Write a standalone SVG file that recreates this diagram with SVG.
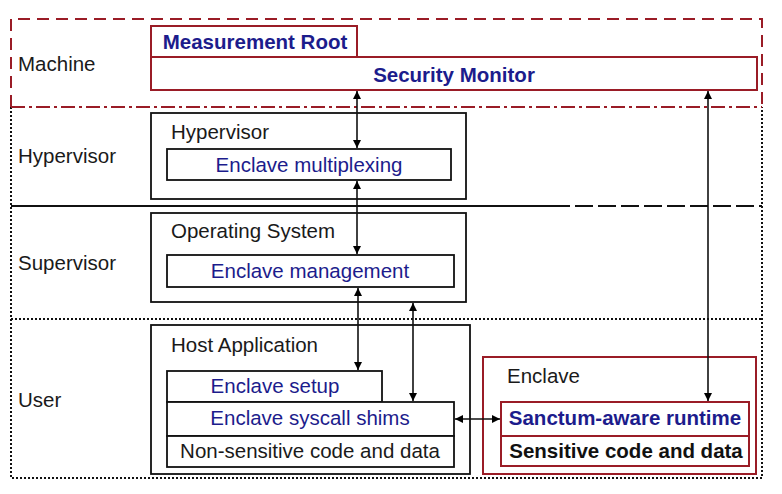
<svg xmlns="http://www.w3.org/2000/svg" width="782" height="494" viewBox="0 0 782 494">
<defs>
<marker id="ah" viewBox="0 0 10 10" refX="10" refY="5" markerWidth="8" markerHeight="9" orient="auto-start-reverse" markerUnits="userSpaceOnUse">
<path d="M0,0 L10,5 L0,10 z" fill="#000"/>
</marker>
<style>
text{font-family:"Liberation Sans",Arial,sans-serif;font-size:20.5px;}
.lbl{fill:#1a1a1a;}
.blue{fill:#1c1c8c;}
.bb{fill:#1c1c8c;font-weight:bold;}
.kb{fill:#111;font-weight:bold;}
.rbox{fill:#fff;stroke:#9a1c26;stroke-width:2;}
.kbox{fill:#fff;stroke:#111;stroke-width:1.8;}
.conn{stroke:#111;stroke-width:1.6;fill:none;marker-start:url(#ah);marker-end:url(#ah);}
.dot{stroke:#111;stroke-width:2;fill:none;stroke-dasharray:2 2;}
</style>
</defs>
<rect width="782" height="494" fill="#fff"/>
<g id="layers">
<path d="M11,107 V478 H762 V107" class="dot"/>
<path d="M11,319 H762" class="dot"/>
<path d="M11,206 H552" stroke="#111" stroke-width="1.8"/>
<path d="M552,206 H762" stroke="#111" stroke-width="1.8" stroke-dasharray="18 5"/>
<path d="M11,107 H762" stroke="#9a1c26" stroke-width="2" stroke-dasharray="14 4 3 4"/>
<path d="M11,107 V19 H762 V107" stroke="#9a1c26" stroke-width="2" fill="none" stroke-dasharray="12 7"/>
<text x="18" y="71" class="lbl">Machine</text>
<text x="18" y="163" class="lbl">Hypervisor</text>
<text x="18" y="270" class="lbl">Supervisor</text>
<text x="18" y="407" class="lbl">User</text>
</g>
<g id="measurement-root">
<rect x="151" y="26" width="206" height="31" class="rbox"/>
<text x="255" y="49" text-anchor="middle" class="bb">Measurement Root</text>
</g>
<g id="security-monitor">
<rect x="151" y="57" width="606" height="33" class="rbox"/>
<text x="454" y="82" text-anchor="middle" class="bb">Security Monitor</text>
</g>
<g id="hypervisor">
<rect x="151" y="113" width="315" height="86" class="kbox"/>
<text x="171" y="139" class="lbl">Hypervisor</text>
</g>
<g id="enclave-multiplexing">
<rect x="167" y="149" width="284" height="31" class="kbox"/>
<text x="309" y="172" text-anchor="middle" class="blue">Enclave multiplexing</text>
</g>
<g id="operating-system">
<rect x="151" y="213" width="315" height="89" class="kbox"/>
<text x="171" y="238" class="lbl">Operating System</text>
</g>
<g id="enclave-management">
<rect x="167" y="255" width="287" height="32" class="kbox"/>
<text x="310" y="278" text-anchor="middle" class="blue">Enclave management</text>
</g>
<g id="host-application">
<rect x="151" y="325" width="319" height="149" class="kbox"/>
<text x="171" y="352" class="lbl">Host Application</text>
</g>
<g id="enclave-setup">
<rect x="167" y="371" width="215" height="31" class="kbox"/>
<text x="275" y="393" text-anchor="middle" class="blue">Enclave setup</text>
</g>
<g id="syscall-shims">
<rect x="167" y="402" width="287" height="34" class="kbox"/>
<text x="310" y="425" text-anchor="middle" class="blue">Enclave syscall shims</text>
</g>
<g id="non-sensitive">
<rect x="167" y="436" width="287" height="31" class="kbox"/>
<text x="310" y="458" text-anchor="middle" class="lbl">Non-sensitive code and data</text>
</g>
<g id="enclave">
<rect x="483" y="357" width="273" height="117" class="rbox"/>
<text x="507" y="383" class="lbl">Enclave</text>
</g>
<g id="sanctum-runtime">
<rect x="501" y="402" width="248" height="34" class="rbox"/>
<text x="625" y="425" text-anchor="middle" class="bb">Sanctum-aware runtime</text>
</g>
<g id="sensitive">
<rect x="501" y="436" width="248" height="30" class="rbox"/>
<text x="626" y="458" text-anchor="middle" class="kb">Sensitive code and data</text>
</g>
<g id="connectors">
<path d="M357,91 V148" class="conn"/>
<path d="M357,181 V254" class="conn"/>
<path d="M358,288 V370" class="conn"/>
<path d="M413,303 V401" class="conn"/>
<path d="M455,419 H500" class="conn"/>
<path d="M708,91 V401" class="conn"/>
</g>
</svg>
